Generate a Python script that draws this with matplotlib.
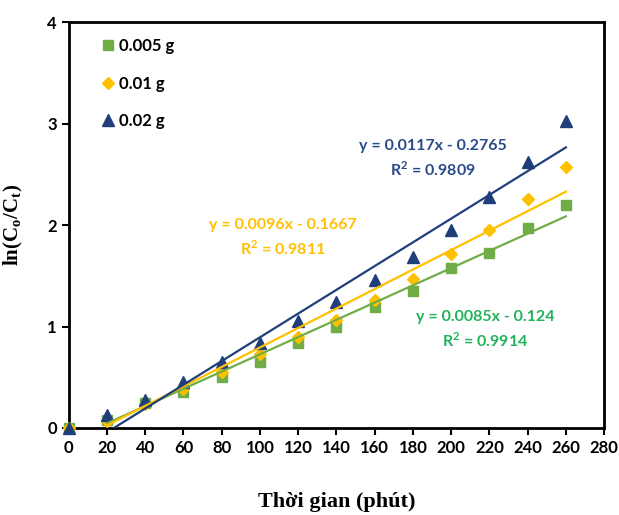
import numpy as np
import matplotlib.pyplot as plt

# time (min) and ln(Co/Ct)
t = [0, 20, 40, 60, 80, 100, 120, 140, 160, 180, 200, 220, 240, 260]
y_005 = [0, 0.08, 0.25, 0.35, 0.50, 0.65, 0.84, 1.00, 1.19, 1.35, 1.58, 1.72, 1.97, 2.20]
y_01 = [0, 0.07, 0.24, 0.38, 0.55, 0.73, 0.90, 1.06, 1.26, 1.47, 1.71, 1.95, 2.26, 2.57]
y_02 = [0, 0.13, 0.28, 0.45, 0.65, 0.84, 1.05, 1.24, 1.46, 1.69, 1.95, 2.28, 2.62, 3.03]

labels = ['0.005 g', '0.01 g', '0.02 g']
slopes = [0.0085, 0.0096, 0.0117]
intercepts = [-0.124, -0.1667, -0.2765]
r2 = ['0.9914', '0.9811', '0.9809']

mk_colors = ['#70AD47', '#FFC000', '#203F7A']
txt_colors = ['#22B35A', '#FFC000', '#2B4A8A']

fig = plt.figure(figsize=(6.19, 5.15), dpi=100)
ax = fig.add_axes([0.111, 0.169, 0.865, 0.788])

series = [y_005, y_01, y_02]
markers = ['s', 'D', '^']
sizes = [7.5, 6.0, 8.0]
for ys, lab, c, m, s in zip(series, labels, mk_colors, markers, sizes):
    ax.plot(t, ys, linestyle='none', marker=m, color=c, markersize=s, label=lab,
            zorder=4, clip_on=False)

# linear trendlines (fitted from 20 min onward)
xf = np.array([20, 260])
for a, b, c in zip(slopes, intercepts, mk_colors):
    ax.plot(xf, a * xf + b, color=c, linewidth=1.6, zorder=5)

eq_font = dict(fontsize=11.5, fontweight='bold', family='Lato', ha='center', va='center')
eq_pos = [(217.7, 0.97), (112, 1.87), (190.5, 2.65)]
for (x, y), a, b, r, c in zip(eq_pos, slopes, intercepts, r2, txt_colors):
    ax.text(x, y, 'y = %sx - %s\nR$^\\mathregular{2}$ = %s' % (a, abs(b), r),
            color=c, linespacing=1.45, **eq_font)

ax.set_xlim(0, 280)
ax.set_ylim(0, 4)
ax.set_xticks(range(0, 281, 20))
ax.set_yticks(range(0, 5))
for sp in ax.spines.values():
    sp.set_linewidth(2)
ax.tick_params(direction='out', length=5, width=1.5, labelsize=12)
for lbl in ax.get_xticklabels() + ax.get_yticklabels():
    lbl.set_family('Lato')
    lbl.set_fontweight('bold')

ax.set_xlabel('Thời gian (phút)', family='Liberation Serif', fontweight='bold',
              fontsize=16, labelpad=26)
ax.set_ylabel('ln(C$_\\mathregular{o}$/C$_\\mathregular{t}$)', family='Liberation Serif',
              fontweight='bold', fontsize=15, labelpad=16)

leg = ax.legend(loc='upper left', bbox_to_anchor=(0.03, 0.998), frameon=False,
                handletextpad=0.15, labelspacing=1.3, handlelength=1.0,
                prop={'family': 'Lato', 'weight': 'bold', 'size': 12})

fig.savefig('out.png', dpi=100)
